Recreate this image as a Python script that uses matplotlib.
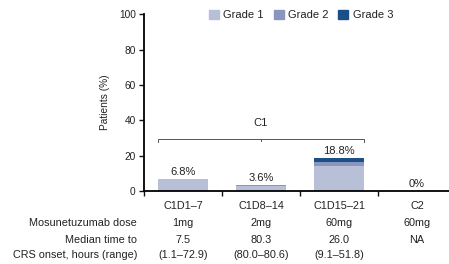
import matplotlib
matplotlib.use("Agg")
import matplotlib.pyplot as plt
import matplotlib.transforms as mtransforms
from matplotlib.patches import Patch

plt.rcParams['font.family'] = ['Liberation Sans', 'DejaVu Sans']

categories = ["C1D1\u20137", "C1D8\u201314", "C1D15\u201321", "C2"]
grade1 = [6.8, 2.7, 13.9, 0.0]
grade2 = [0.0, 0.9, 2.6, 0.0]
grade3 = [0.0, 0.0, 2.3, 0.0]
totals_labels = ["6.8%", "3.6%", "18.8%", "0%"]
doses = ["1mg", "2mg", "60mg", "60mg"]
median_time = ["7.5", "80.3", "26.0", "NA"]
ranges = ["(1.1\u201372.9)", "(80.0\u201380.6)", "(9.1\u201351.8)", ""]
yticks = [0, 20, 40, 60, 80, 100]

c1, c2, c3 = "#b8c0d8", "#8a96bd", "#1c4f87"
txt = "#222222"
fs = 7.8

fig = plt.figure(figsize=(4.49, 2.64), dpi=100)
ax = fig.add_axes([144/449, 73/264, (449-144)/449, (191-14.3)/264])

x = list(range(len(categories)))
w = 0.63
b2 = [a for a in grade1]
b3 = [a + b for a, b in zip(grade1, grade2)]
ax.bar(x, grade1, width=w, color=c1, label="Grade 1")
ax.bar(x, grade2, width=w, bottom=b2, color=c2, label="Grade 2")
ax.bar(x, grade3, width=w, bottom=b3, color=c3, label="Grade 3")

totals = [a + b + c for a, b, c in zip(grade1, grade2, grade3)]
for xi, t, lab in zip(x, totals, totals_labels):
    ax.text(xi, t + 1.2, lab, ha="center", va="bottom", fontsize=8, color=txt)

ax.set_xlim(-0.5, -0.5 + (449-144)/78)
ax.set_ylim(0, 100)
ax.set_yticks(yticks)
ax.set_xticks([-0.5, 0.5, 1.5, 2.5])
ax.set_xticklabels([])
ax.tick_params(axis="both", direction="out", length=3.5, width=1, labelsize=7.3, colors="#111111", labelcolor=txt)
ax.tick_params(axis="y", pad=2.5)
for s in ["top", "right"]:
    ax.spines[s].set_visible(False)
ax.spines["left"].set_linewidth(1.3)
ax.spines["bottom"].set_linewidth(1.3)
ax.set_ylabel("Patients (%)", fontsize=7.3, color=txt, labelpad=6)

# C1 bracket
bx0, bx1 = 0 - w/2, 2 + w/2
ax.plot([bx0, bx0, bx1, bx1], [27.8, 29.5, 29.5, 27.8], color="#555555", lw=0.7, clip_on=False)
ax.plot([1, 1], [29.5, 28.3], color="#555555", lw=0.7)
ax.text(1, 35.5, "C1", ha="center", va="bottom", fontsize=8, color=txt)

# Table below
tr = mtransforms.blended_transform_factory(ax.transData, fig.transFigure)
rows_y = [(264-206)/264, (264-223)/264, (264-240)/264, (264-255.5)/264]
for xi, c in zip(x, categories):
    fig.text(xi, rows_y[0], c, transform=tr, ha="center", va="center", fontsize=fs, color=txt)
for xi, d in zip(x, doses):
    fig.text(xi, rows_y[1], d, transform=tr, ha="center", va="center", fontsize=fs, color=txt)
for xi, m in zip(x, median_time):
    fig.text(xi, rows_y[2], m, transform=tr, ha="center", va="center", fontsize=fs, color=txt)
for xi, r in zip(x, ranges):
    fig.text(xi, rows_y[3], r, transform=tr, ha="center", va="center", fontsize=fs, color=txt)
lx = 137/449
fig.text(lx, rows_y[1], "Mosunetuzumab dose", ha="right", va="center", fontsize=fs, color=txt)
fig.text(lx, rows_y[2], "Median time to", ha="right", va="center", fontsize=fs, color=txt)
fig.text(lx, rows_y[3], "CRS onset, hours (range)", ha="right", va="center", fontsize=fs, color=txt)

handles = [Patch(color=c1), Patch(color=c2), Patch(color=c3)]
fig.legend(handles, ["Grade 1", "Grade 2", "Grade 3"], loc="center", bbox_to_anchor=(301/449, (264-15)/264),
           ncol=3, frameon=False, fontsize=8, handlelength=0.9, handleheight=0.9,
           handletextpad=0.4, columnspacing=0.9, labelcolor=txt)

fig.savefig("out.png", dpi=100)
